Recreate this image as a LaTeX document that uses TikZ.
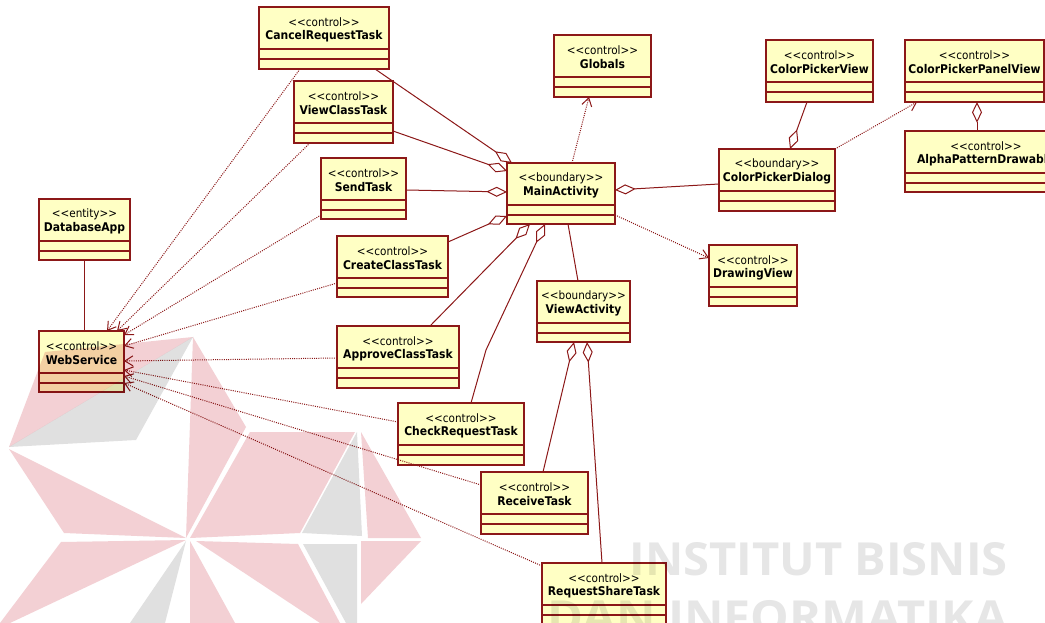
\documentclass[tikz,border=0pt]{standalone}
\usepackage{fontspec}
\usepackage{graphicx}
\usetikzlibrary{arrows.meta,calc}

\newfontfamily\umlfont{DejaVu Sans}[FakeStretch=0.9]
\newfontfamily\markfont{Open Sans}

\definecolor{classfill}{RGB}{255,255,196}
\definecolor{classline}{RGB}{140,24,24}
\definecolor{markpink}{RGB}{243,208,212}
\definecolor{markgray}{RGB}{224,224,224}
\definecolor{marktext}{RGB}{230,230,230}

\tikzset{
  classbox/.style={draw=classline, fill=classfill, line width=0.8pt,
    inner sep=0pt, outer sep=0pt, anchor=north west},
  divider/.style={draw=classline, line width=0.8pt},
  stereo/.style={font=\umlfont\fontsize{8.7}{10}\selectfont, inner sep=0pt},
  cname/.style={font=\umlfont\bfseries\fontsize{9}{11}\selectfont, inner sep=0pt},
  aggr/.style={draw=classline, line width=0.75pt,
    -{Diamond[open,length=15.5pt,width=7.5pt]}},
  assoc/.style={draw=classline, line width=0.75pt},
  dep/.style={draw=classline, line width=0.75pt, dash pattern=on 0.75pt off 0.9pt,
    -{Straight Barb[length=6pt,width=7.5pt]}},
}

% \umlclass{name}{x1}{y1}{x2}{y2}{stereotype}{class}
\newcommand\umlclass[7]{%
  \node[classbox, minimum width={(#4-#2)*0.75pt}, minimum height={(#5-#3)*0.75pt}]
    (#1) at (#2,#3) {};
  \draw[divider] ($(#1.north west)+(0,42)$) -- ($(#1.north east)+(0,42)$);
  \draw[divider] ($(#1.north west)+(0,52)$) -- ($(#1.north east)+(0,52)$);
  \node[stereo] (#1-stereo) at ($(#1.north)+(0,15)$) {<<#6>>};
  \node[cname] (#1-name) at ($(#1.north)+(0,29)$) {#7};
}

\begin{document}
\begin{tikzpicture}[x=0.75pt, y=-0.75pt]
\useasboundingbox (0,0) rectangle (1045,623);
\clip (0,0) rectangle (1045,623);
\fill[white] (0,0) rectangle (1045,623);

% classes
\umlclass{cancel}{259}{7}{389}{69}{control}{CancelRequestTask}
\umlclass{viewclass}{294}{81}{393}{143}{control}{ViewClassTask}
\umlclass{send}{321}{158}{406}{219}{control}{SendTask}
\umlclass{main}{507}{163}{615}{224}{boundary}{MainActivity}
\umlclass{globals}{554}{35}{651}{97}{control}{Globals}
\umlclass{cpview}{766}{40}{873}{102}{control}{ColorPickerView}
\umlclass{cppanel}{905}{40}{1044}{102}{control}{ColorPickerPanelView}
\umlclass{alpha}{905}{131}{1067}{192}{control}{AlphaPatternDrawable}
\umlclass{cpdialog}{719}{149}{835}{211}{boundary}{ColorPickerDialog}
\umlclass{dbapp}{39}{199}{130}{260}{entity}{DatabaseApp}
\umlclass{webservice}{39}{331}{124}{392}{control}{WebService}
\umlclass{create}{337}{236}{448}{297}{control}{CreateClassTask}
\umlclass{approve}{337}{326}{459}{388}{control}{ApproveClassTask}
\umlclass{viewact}{537}{281}{630}{342}{boundary}{ViewActivity}
\umlclass{drawing}{709}{245}{797}{306}{control}{DrawingView}
\umlclass{check}{398}{403}{524}{465}{control}{CheckRequestTask}
\umlclass{receive}{481}{472}{588}{534}{control}{ReceiveTask}
\umlclass{share}{542}{563}{666}{625}{control}{RequestShareTask}

% aggregations
\draw[aggr] ($(cancel.south west)+(116,0)$) -- ($(main.north west)+(5,0)$);
\draw[aggr] ($(viewclass.north east)+(0,50)$) -- ($(main.north west)+(0,8)$);
\draw[aggr] ($(send.north east)+(0,32)$) -- ($(main.north west)+(0,29)$);
\draw[aggr] ($(create.north east)+(0,6)$) -- ($(main.north west)+(0,53)$);
\draw[aggr] ($(approve.north west)+(93,0)$) -- ($(main.south west)+(23,0)$);
\coordinate (checkbend) at (486,350);
\draw[aggr] ($(check.north west)+(73,0)$) -- (checkbend) -- ($(main.south west)+(38,0)$);
\draw[assoc] ($(main.south west)+(61,0)$) -- ($(viewact.north west)+(41,0)$);
\draw[aggr] ($(cpdialog.north west)+(0,35)$) -- ($(main.north east)+(0,27)$);
\draw[aggr] ($(cpview.south west)+(41,0)$) -- ($(cpdialog.north west)+(71,0)$);
\draw[aggr] ($(alpha.north west)+(72,0)$) -- ($(cppanel.south west)+(72,0)$);
\draw[aggr] ($(receive.north west)+(62,0)$) -- ($(viewact.south west)+(37,0)$);
\draw[aggr] ($(share.north west)+(60,0)$) -- ($(viewact.south west)+(50,0)$);
\draw[assoc] ($(dbapp.south west)+(45,0)$) -- ($(webservice.north west)+(45,0)$);

% dependencies
\draw[dep] ($(main.north west)+(65,0)$) -- ($(globals.south west)+(35,0)$);
\draw[dep] ($(main.north east)+(0,52)$) -- ($(drawing.north west)+(0,13)$);
\draw[dep] (cpdialog.north east) -- ($(cppanel.south west)+(12,0)$);
\draw[dep] ($(cancel.south west)+(41,0)$) -- ($(webservice.north west)+(68,0)$);
\draw[dep] ($(viewclass.south west)+(16,0)$) -- ($(webservice.north west)+(78,0)$);
\draw[dep] ($(send.south west)+(0,-4)$) -- ($(webservice.north east)+(0,4)$);
\draw[dep] ($(create.north west)+(0,47)$) -- ($(webservice.north east)+(0,15)$);
\draw[dep] ($(approve.north west)+(0,32)$) -- ($(webservice.north east)+(0,30)$);
\draw[dep] ($(check.north west)+(0,19)$) -- ($(webservice.north east)+(0,39)$);
\draw[dep] ($(receive.north west)+(0,13)$) -- ($(webservice.north east)+(0,45)$);
\draw[dep] ($(share.north west)+(0,3)$) -- ($(webservice.north east)+(0,52)$);

% institute watermark
\begin{scope}[blend mode=multiply]
  \fill[markpink] (9,447) -- (45,352) -- (193,337) -- cycle;
  \fill[markgray] (9,447) -- (193,337) -- (136,440) -- cycle;
  \fill[markpink] (193,337) -- (246,427) -- (186,538) -- cycle;
  \fill[markpink] (250,432) -- (355,432) -- (300,533) -- (190,538) -- cycle;
  \fill[markgray] (357,432) -- (302,533) -- (362,536) -- cycle;
  \fill[markpink] (361,432) -- (421,538) -- (368,538) -- cycle;
  \fill[markpink] (9,449) -- (186,538) -- (64,533) -- cycle;
  \fill[markpink] (61,542) -- (186,540) -- (10,623) -- (0,623) -- cycle;
  \fill[markgray] (186,541) -- (130,623) -- (165,623) -- cycle;
  \fill[markpink] (190,541) -- (190,623) -- (235,623) -- cycle;
  \fill[markpink] (196,541) -- (298,544) -- (340,623) -- (320,623) -- cycle;
  \fill[markgray] (303,544) -- (357,544) -- (357,623) -- (346,623) -- cycle;
  \fill[markpink] (361,541) -- (421,541) -- (361,604) -- cycle;
  \node[anchor=north east, inner sep=0pt, text=marktext] (mark1) at (1008,542)
    {\resizebox{283.5pt}{24.75pt}{\markfont\bfseries INSTITUT BISNIS}};
  \node[anchor=north east, inner sep=0pt, text=marktext] (mark2) at (1008,600)
    {\resizebox{345pt}{24.75pt}{\markfont\bfseries DAN INFORMATIKA}};
\end{scope}
\end{tikzpicture}
\end{document}
